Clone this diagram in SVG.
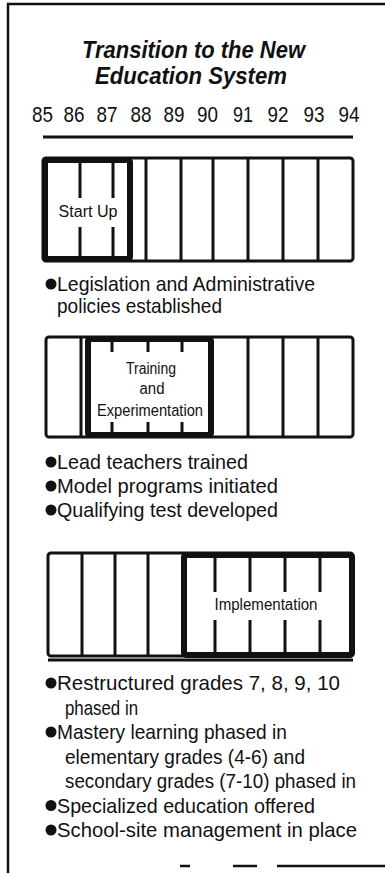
<svg xmlns="http://www.w3.org/2000/svg" width="385" height="875" viewBox="0 0 385 875">
<style>
.t{font-family:"Liberation Sans",Arial,sans-serif;fill:#111}
.title{font-size:23px;font-weight:bold;font-style:italic}
.yr{font-size:22px;text-anchor:middle}
.b{font-size:21px}
.lbl{font-size:16px;text-anchor:middle}
.frame{fill:none;stroke:#111;stroke-width:2.5}
.outer{fill:#fff;stroke:#111;stroke-width:3}
.div{stroke:#111;stroke-width:3;fill:none}
.phase{fill:none;stroke:#111;stroke-width:6}
.dot{fill:#111}
</style>
<rect width="385" height="875" fill="#fff"/>
<g id="frame">
<path class="frame" d="M8,873 V4 H385"/>
<path class="frame" d="M180,866 H190 M233,866 H257 M277,866 H385"/>
</g>
<g id="title">
<text class="t title" x="193.5" y="58" text-anchor="middle" textLength="223" lengthAdjust="spacingAndGlyphs">Transition to the New</text>
<text class="t title" x="191" y="84" text-anchor="middle" textLength="192" lengthAdjust="spacingAndGlyphs">Education System</text>
</g>
<g id="years">
<text class="t yr" x="42.5" y="122" textLength="21" lengthAdjust="spacingAndGlyphs">85</text>
<text class="t yr" x="74" y="122" textLength="21" lengthAdjust="spacingAndGlyphs">86</text>
<text class="t yr" x="107" y="122" textLength="21" lengthAdjust="spacingAndGlyphs">87</text>
<text class="t yr" x="141" y="122" textLength="21" lengthAdjust="spacingAndGlyphs">88</text>
<text class="t yr" x="174" y="122" textLength="21" lengthAdjust="spacingAndGlyphs">89</text>
<text class="t yr" x="207.5" y="122" textLength="21" lengthAdjust="spacingAndGlyphs">90</text>
<text class="t yr" x="243" y="122" textLength="20" lengthAdjust="spacingAndGlyphs">91</text>
<text class="t yr" x="278" y="122" textLength="21" lengthAdjust="spacingAndGlyphs">92</text>
<text class="t yr" x="314" y="122" textLength="21" lengthAdjust="spacingAndGlyphs">93</text>
<text class="t yr" x="349" y="122" textLength="21" lengthAdjust="spacingAndGlyphs">94</text>
<line class="div" x1="43" y1="137" x2="353" y2="137" stroke-width="2"/>
</g>
<g id="bar-startup">
<rect class="outer" x="43" y="158" width="310" height="103" rx="3"/>
<path class="div" d="M146,158 V261 M181,158 V261 M213,158 V261 M248,158 V261 M283,158 V261 M318,158 V261"/>
<path class="div" d="M80,160 V198 M80,227 V259 M113,160 V198 M113,227 V259"/>
<rect class="phase" x="45" y="160" width="85" height="99" rx="2"/>
<text class="t lbl" x="88" y="217" textLength="59" lengthAdjust="spacingAndGlyphs">Start Up</text>
</g>
<g id="notes-startup">
<circle class="dot" cx="51" cy="284" r="5.5"/>
<text class="t b" x="57" y="291" textLength="258" lengthAdjust="spacingAndGlyphs">Legislation and Administrative</text>
<text class="t b" x="57" y="313" textLength="165" lengthAdjust="spacingAndGlyphs">policies established</text>
</g>
<g id="bar-training">
<rect class="outer" x="46" y="337" width="307" height="100" rx="3"/>
<path class="div" d="M81,337 V437 M248,337 V437 M283,337 V437 M318,337 V437"/>
<path class="div" d="M112,339 V352 M148,339 V352 M182,339 V352 M112,422 V435 M148,422 V435 M182,422 V435"/>
<rect class="phase" x="88" y="339" width="123" height="96" rx="2"/>
<text class="t lbl" x="151" y="374" textLength="50" lengthAdjust="spacingAndGlyphs">Training</text>
<text class="t lbl" x="152" y="394" textLength="25" lengthAdjust="spacingAndGlyphs">and</text>
<text class="t lbl" x="150" y="416" textLength="106" lengthAdjust="spacingAndGlyphs">Experimentation</text>
</g>
<g id="notes-training">
<circle class="dot" cx="51" cy="462" r="5.5"/>
<text class="t b" x="57" y="469" textLength="191" lengthAdjust="spacingAndGlyphs">Lead teachers trained</text>
<circle class="dot" cx="51" cy="486" r="5.5"/>
<text class="t b" x="57" y="493" textLength="221" lengthAdjust="spacingAndGlyphs">Model programs initiated</text>
<circle class="dot" cx="51" cy="510" r="5.5"/>
<text class="t b" x="57" y="517" textLength="221" lengthAdjust="spacingAndGlyphs">Qualifying test developed</text>
</g>
<g id="bar-implementation">
<rect class="outer" x="48" y="553" width="305" height="103" rx="3"/>
<line class="div" x1="48" y1="660" x2="353" y2="660"/>
<path class="div" d="M82,553 V656 M115,553 V656 M148,553 V656"/>
<path class="div" d="M215,555 V592 M250,555 V592 M285,555 V592 M320,555 V592 M215,620 V654 M250,620 V654 M285,620 V654 M320,620 V654"/>
<rect class="phase" x="184" y="555" width="168" height="100" rx="2"/>
<text class="t lbl" x="266" y="610" textLength="103" lengthAdjust="spacingAndGlyphs">Implementation</text>
</g>
<g id="notes-implementation">
<circle class="dot" cx="51" cy="683" r="5.5"/>
<text class="t b" x="57" y="690" textLength="283" lengthAdjust="spacingAndGlyphs">Restructured grades 7, 8, 9, 10</text>
<text class="t b" x="65" y="714.5" textLength="73" lengthAdjust="spacingAndGlyphs">phased in</text>
<circle class="dot" cx="51" cy="732" r="5.5"/>
<text class="t b" x="57" y="739" textLength="230" lengthAdjust="spacingAndGlyphs">Mastery learning phased in</text>
<text class="t b" x="65" y="763.5" textLength="240" lengthAdjust="spacingAndGlyphs">elementary grades (4-6) and</text>
<text class="t b" x="65" y="788" font-size="20" style="font-size:20px" textLength="291" lengthAdjust="spacingAndGlyphs">secondary grades (7-10) phased in</text>
<circle class="dot" cx="51" cy="805.5" r="5.5"/>
<text class="t b" x="57" y="812.5" textLength="258" lengthAdjust="spacingAndGlyphs">Specialized education offered</text>
<circle class="dot" cx="51" cy="830" r="5.5"/>
<text class="t b" x="57" y="837" textLength="300" lengthAdjust="spacingAndGlyphs">School-site management in place</text>
</g>
</svg>
